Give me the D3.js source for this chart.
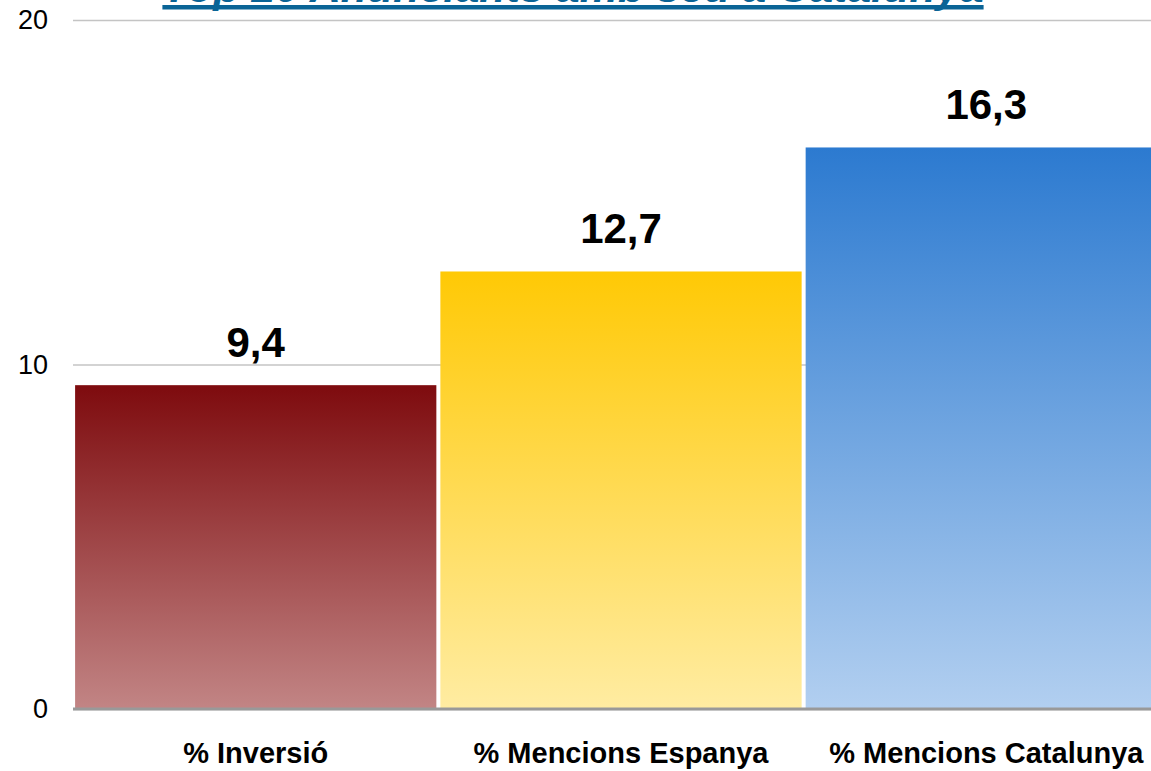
<!DOCTYPE html>
<html>
<head>
<meta charset="utf-8">
<script src="https://cdn.jsdelivr.net/npm/d3@7"></script>
<style>
  body { margin: 0; background: #fff; }
  text { font-family: "Liberation Sans", Arial, sans-serif; }
</style>
</head>
<body>
<div class="chart"></div>
<script>
const categories = ['% Inversió', '% Mencions Espanya', '% Mencions Catalunya'];
const values = [9.4, 12.7, 16.3];
const valueLabels = ['9,4', '12,7', '16,3'];
const yTicks = [0, 10, 20];
const title = 'Top 20 Anunciants amb seu a Catalunya';
const gradients = [
  ['#7e0b0e', '#c28585'],
  ['#ffc905', '#ffeca2'],
  ['#2c7ad0', '#b2cff0']
];

const width = 1151;
const height = 771;

const svg = d3.select('.chart')
  .append('svg')
  .attr('width', width)
  .attr('height', height);

const x = d3.scaleBand()
  .domain(categories)
  .range([74, 1168])
  .paddingInner(0.011)
  .paddingOuter(0.003);

const y = d3.scaleLinear()
  .domain([0, 20])
  .range([709, 20]);

// gradients for the bars
const defs = svg.append('defs');
gradients.forEach((g, i) => {
  const lg = defs.append('linearGradient')
    .attr('id', 'grad' + i)
    .attr('x1', 0).attr('y1', 0).attr('x2', 0).attr('y2', 1);
  lg.append('stop').attr('offset', '0%').attr('stop-color', g[0]);
  lg.append('stop').attr('offset', '100%').attr('stop-color', g[1]);
});

// gridlines + tick labels
const yAxis = d3.axisLeft(y)
  .tickValues(yTicks)
  .tickSize(-(width - 73))
  .tickPadding(25);

svg.append('g')
  .attr('class', 'axis y-axis')
  .attr('transform', 'translate(73, 0)')
  .call(yAxis)
  .call(g => g.select('.domain').remove())
  .call(g => g.selectAll('.tick line').attr('stroke', '#c4c4c4').attr('stroke-width', 1.5))
  .call(g => g.selectAll('.tick text')
    .attr('fill', '#000')
    .style('font-size', '27px')
    .style('font-family', '"Liberation Sans", Arial, sans-serif'));

// bars
svg.append('g')
  .selectAll('rect')
  .data(values)
  .join('rect')
  .attr('x', (d, i) => x(categories[i]))
  .attr('y', d => y(d))
  .attr('width', x.bandwidth())
  .attr('height', d => y(0) - y(d))
  .attr('fill', (d, i) => `url(#grad${ i })`);

// baseline
svg.append('g')
  .attr('transform', `translate(0, ${ y(0) })`)
  .call(d3.axisBottom(x).tickSize(0).tickFormat(''))
  .call(g => g.select('.domain').attr('stroke', '#999').attr('stroke-width', 3).attr('d', 'M73,0H1151'));

// value labels
svg.append('g')
  .selectAll('text')
  .data(values)
  .join('text')
  .attr('x', (d, i) => x(categories[i]) + x.bandwidth() / 2)
  .attr('y', d => y(d) - 28)
  .attr('text-anchor', 'middle')
  .style('font-size', '42px')
  .style('font-weight', 'bold')
  .text((d, i) => valueLabels[i]);

// category labels
svg.append('g')
  .selectAll('text')
  .data(categories)
  .join('text')
  .attr('x', d => x(d) + x.bandwidth() / 2)
  .attr('y', 763)
  .attr('text-anchor', 'middle')
  .style('font-size', '29px')
  .style('font-weight', 'bold')
  .text(d => d);

// title (cut off at the top of the picture, as in the original)
const t = svg.append('text')
  .attr('x', 573)
  .attr('y', 2)
  .attr('text-anchor', 'middle')
  .attr('fill', '#0a6496')
  .style('font-size', '43px')
  .style('font-weight', 'bold')
  .style('font-style', 'italic')
  .text(title);

const tw = t.node().getComputedTextLength();
svg.append('rect')
  .attr('x', 573 - tw / 2)
  .attr('y', 5)
  .attr('width', tw)
  .attr('height', 4.5)
  .attr('fill', '#0a6496');
</script>
</body>
</html>
